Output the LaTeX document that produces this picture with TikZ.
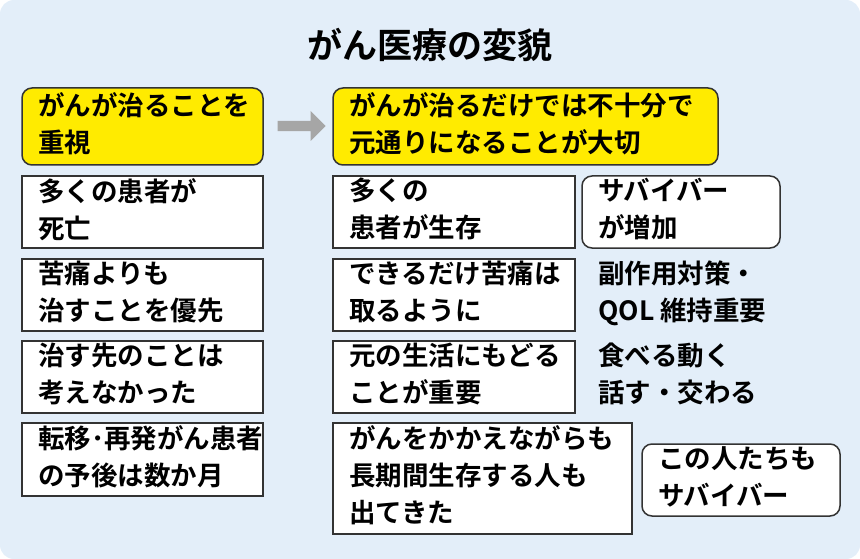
\documentclass[tikz,border=0pt]{standalone}
\usepackage{fontspec}
\setmainfont{Noto Sans CJK JP}[BoldFont={Noto Sans CJK JP Bold}]
\usetikzlibrary{shapes.arrows}
\definecolor{bgblue}{HTML}{E3EEF9}
\definecolor{yel}{HTML}{FFEB00}
\definecolor{edge}{HTML}{333333}
\begin{document}
\begin{tikzpicture}[x=1pt,y=-1pt,
 txt/.style={font=\bfseries\fontsize{26.5}{37}\selectfont,align=left,anchor=north west,inner sep=0pt,text=black},
 sqbox/.style={draw=edge,line width=1.5pt,fill=white},
 rbox/.style={draw=edge,line width=1.5pt,fill=white,rounded corners=10pt},
 ybox/.style={draw=edge,line width=1.5pt,fill=yel,rounded corners=10pt}]
\useasboundingbox (0,0) rectangle (860,559);
\fill[bgblue,rounded corners=14pt] (0,0) rectangle (860,559);
\node[font=\bfseries\fontsize{35}{40}\selectfont] (title) at (430,45) {がん医療の変貌};
% yellow
\draw[ybox] (22,88) rectangle (263,165);
\node[txt] (y1) at (38,92) {がんが治ることを\\重視};
\draw[ybox] (333,88) rectangle (718,165);
\node[txt] (y2) at (349,92) {がんが治るだけでは不十分で\\元通りになることが大切};
\node[single arrow,fill=gray!70,draw=none,minimum width=30pt,single arrow head extend=6pt,minimum height=48pt,inner sep=3pt] (arr) at (299,126) {};
% left
\draw[sqbox] (22,176) rectangle (263,248);
\node[txt] (l1) at (38,178) {多くの患者が\\死亡};
\draw[sqbox] (22,259) rectangle (263,331);
\node[txt] (l2) at (38,261) {苦痛よりも\\治すことを優先};
\draw[sqbox] (22,341) rectangle (263,413);
\node[txt] (l3) at (38,343) {治す先のことは\\考えなかった};
\draw[sqbox] (22,423) rectangle (263,496);
\node[txt] (l4) at (38,425) {転移･再発がん患者\\の予後は数か月};
% right
\draw[sqbox] (333,176) rectangle (575,248);
\node[txt] (r1) at (349,178) {多くの\\患者が生存};
\draw[sqbox] (333,259) rectangle (575,331);
\node[txt] (r2) at (349,261) {できるだけ苦痛は\\取るように};
\draw[sqbox] (333,341) rectangle (575,413);
\node[txt] (r3) at (349,343) {元の生活にもどる\\ことが重要};
\draw[sqbox] (333,423) rectangle (632,534);
\node[txt] (r4) at (349,425) {がんをかかえながらも\\長期間生存する人も\\出てきた};
% side
\draw[rbox] (582,176) rectangle (780,248);
\node[txt] (s1) at (598,178) {サバイバー\\が増加};
\node[txt] (s2) at (598,261) {副作用対策・\\QOL 維持重要};
\node[txt] (s3) at (598,343) {食べる動く\\話す・交わる};
\draw[rbox] (642,444) rectangle (840,516);
\node[txt] (s4) at (658,446) {この人たちも\\サバイバー};
\end{tikzpicture}
\end{document}
